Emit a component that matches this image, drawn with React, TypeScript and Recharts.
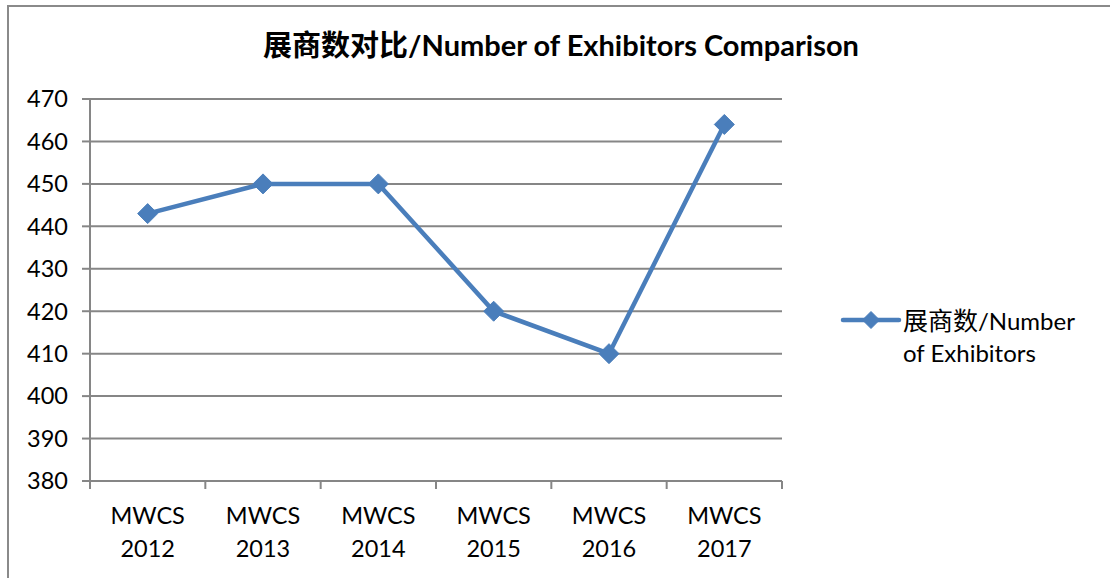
import React from "react";
import { LineChart, Line, XAxis, YAxis, CartesianGrid } from "recharts";

const categories = ["MWCS 2012", "MWCS 2013", "MWCS 2014", "MWCS 2015", "MWCS 2016", "MWCS 2017"];
const exhibitors = [443, 450, 450, 420, 410, 464];
const yTicks = [380, 390, 400, 410, 420, 430, 440, 450, 460, 470];

const seriesName = "展商数/Number of Exhibitors";
const titleCn = "展商数对比";
const titleEn = "/Number of Exhibitors Comparison";

const data = categories.map((c, i) => ({ name: c, value: exhibitors[i] }));

const W = 1110;
const H = 578;
const M = { top: 99, right: 328, bottom: 0, left: 0 };
const Y_W = 90;
const X_H = 97;
const BLUE = "#4A7EBB";
const GRID = "#868686";
const FONT = "Lato, 'Noto Sans CJK SC', sans-serif";

const plotW = W - M.left - M.right - Y_W;
const band = plotW / categories.length;

function Diamond({ cx, cy, r = 9 }: { cx?: number; cy?: number; r?: number }) {
  if (cx == null || cy == null) return null;
  return (
    <polygon
      points={`${cx},${cy - r} ${cx + r},${cy} ${cx},${cy + r} ${cx - r},${cy}`}
      fill={BLUE}
      stroke={BLUE}
      strokeWidth={1}
    />
  );
}

// tick y arrives already offset by tickSize + tickMargin (8px) below the axis line
function XTick(props: any) {
  const { x, y, payload, index } = props;
  const [a, b] = String(payload.value).split(" ");
  const axisY = y - 8;
  return (
    <g>
      <line x1={x - band / 2} x2={x - band / 2} y1={axisY} y2={axisY + 8} stroke={GRID} strokeWidth={2} />
      {index === categories.length - 1 && (
        <line x1={x + band / 2} x2={x + band / 2} y1={axisY} y2={axisY + 8} stroke={GRID} strokeWidth={2} />
      )}
      <text x={x} y={axisY + 43} textAnchor="middle" fontSize={23.5} fontFamily={FONT} fill="#000">
        {a}
      </text>
      <text x={x} y={axisY + 76} textAnchor="middle" fontSize={23.5} fontFamily={FONT} fill="#000">
        {b}
      </text>
    </g>
  );
}

export default function App() {
  return (
    <div style={{ position: "absolute", left: 0, top: 0, width: W, height: H, background: "#fff", overflow: "hidden" }}>
      <div
        style={{
          position: "absolute",
          left: 7,
          top: 5,
          width: W + 20,
          height: H + 20,
          border: "2px solid #8a8a8a",
          boxSizing: "border-box",
        }}
      />
      <div style={{ position: "absolute", left: 0, top: 0 }}>
        <LineChart width={W} height={H} data={data} margin={M}>
          <text x={561} y={56} textAnchor="middle" fontFamily={FONT} fontWeight="bold" fill="#000">
            <tspan fontSize={29} fontFamily="'Noto Sans CJK SC', sans-serif">
              {titleCn}
            </tspan>
            <tspan fontSize={29}>{titleEn}</tspan>
          </text>
          <CartesianGrid vertical={false} stroke={GRID} strokeWidth={2} />
          <XAxis
            dataKey="name"
            scale="band"
            height={X_H}
            axisLine={{ stroke: GRID, strokeWidth: 2 }}
            tickLine={false}
            tick={<XTick />}
            interval={0}
          />
          <YAxis
            width={Y_W}
            domain={[380, 470]}
            ticks={yTicks}
            interval={0}
            axisLine={{ stroke: GRID, strokeWidth: 2 }}
            tickLine={{ stroke: GRID, strokeWidth: 2 }}
            tickSize={8}
            tickMargin={14}
            tick={{ fontSize: 23.5, fontFamily: FONT, fill: "#000" }}
          />
          <Line
            type="linear"
            dataKey="value"
            name={seriesName}
            stroke={BLUE}
            strokeWidth={4.5}
            dot={(p: any) => <Diamond key={`d-${p.index}`} cx={p.cx} cy={p.cy} r={10} />}
            activeDot={false}
            isAnimationActive={false}
          />
        </LineChart>
      </div>
      <svg style={{ position: "absolute", left: 0, top: 0 }} width={W} height={H} pointerEvents="none">
        <line x1={843} x2={899} y1={320} y2={320} stroke={BLUE} strokeWidth={4.5} strokeLinecap="round" />
        <Diamond cx={871} cy={320} r={8.5} />
        <text x={903} y={330} fontFamily={FONT} fontSize={24} fill="#000">
          <tspan fontFamily="'Noto Sans CJK SC', sans-serif" fontSize={25}>展商数</tspan>
          <tspan>/Number</tspan>
        </text>
        <text x={903} y={362} fontFamily={FONT} fontSize={24} fill="#000">
          of Exhibitors
        </text>
      </svg>
    </div>
  );
}
